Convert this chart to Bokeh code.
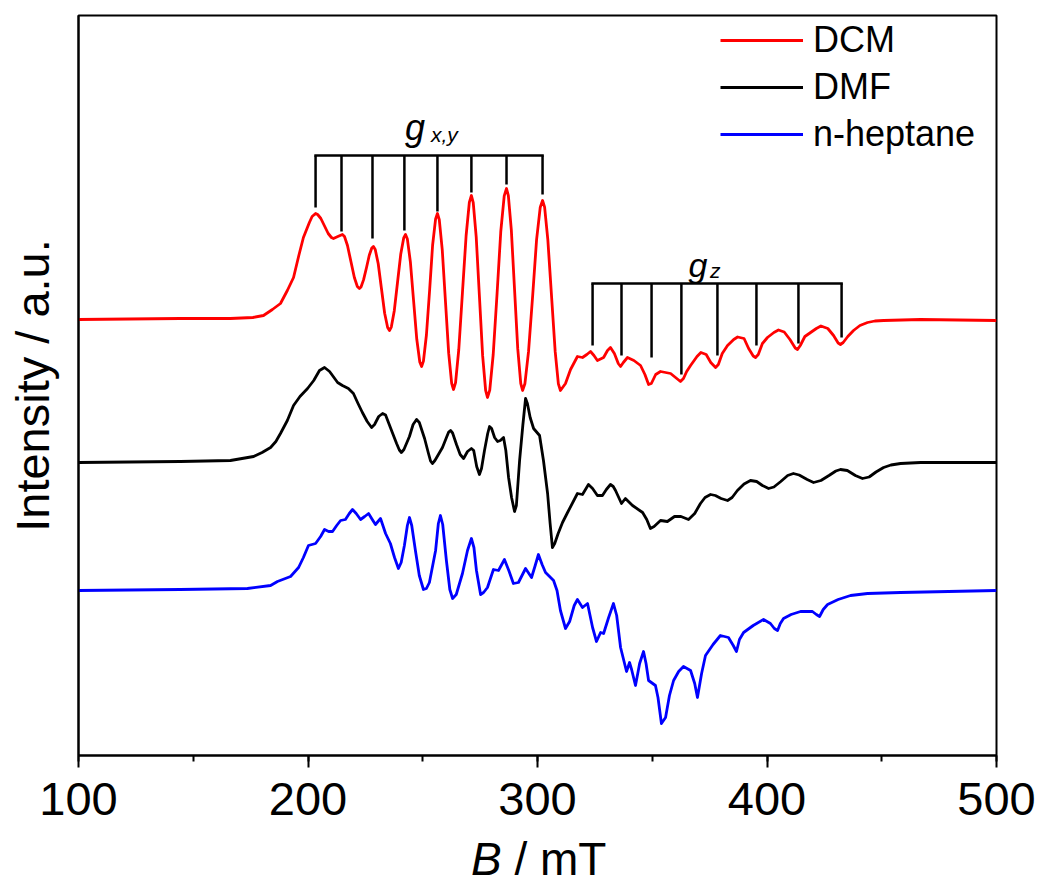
from bokeh.plotting import figure
from bokeh.models import (Range1d, SingleIntervalTicker, FixedTicker, Legend, LegendItem, Label, Div)
from bokeh.layouts import column
from bokeh.embed import file_html
from bokeh.resources import INLINE

# ---------------- data: (B / mT, intensity / a.u.) ----------------
dcm = [(100, 436), (144.4, 437), (166.2, 437), (176, 438), (180.6, 440), (184.5, 446), (188.0, 452), (191.0, 465),
       (193.7, 478), (196.0, 500), (198.0, 518), (200.6, 533), (201.8, 539), (203.3, 542),
       (204.2, 541), (205.6, 537), (207.2, 529.5), (208.8, 522), (210.2, 518), (211.1, 517), (213.0, 519), (215.0, 521),
       (215.9, 519), (217.2, 510), (218.7, 494), (220.2, 478), (221.5, 469), (222.4, 467),
       (223.1, 468.5), (224.2, 475.6), (225.5, 488), (226.7, 500.3), (227.8, 507.5), (228.5, 509),
       (229.3, 506), (230.6, 491.7), (232.0, 467), (233.4, 442.3), (234.7, 428), (235.5, 425),
       (236.3, 428.4), (237.6, 444.8), (239.0, 473), (240.4, 501.2), (241.7, 517.6), (242.5, 521),
       (243.3, 516.4), (244.6, 493.8), (246.0, 455), (247.4, 416.2), (248.7, 393.6), (249.5, 389),
       (250.3, 394.4), (251.6, 420.5), (253.0, 465.5), (254.3, 510.5), (255.6, 536.6), (256.4, 542),
       (257.2, 535.8), (258.5, 505.7), (259.9, 454), (261.3, 402.3), (262.6, 372.2), (263.4, 366),
       (264.3, 372.8), (265.7, 406), (267.3, 463), (268.9, 520), (270.3, 553.2), (271.2, 560),
       (272.0, 552.9), (273.3, 518.4), (274.7, 459), (276.1, 399.6), (277.4, 365.1), (278.2, 358),
       (279.2, 365.3), (280.7, 401), (282.4, 462.5), (284.0, 524), (285.5, 559.7), (286.5, 567),
       (287.3, 559.9), (288.6, 525.4), (290.0, 466), (291.4, 406.6), (292.7, 372.1), (293.5, 365),
       (294.5, 371.7), (296.1, 404.1), (297.9, 460), (299.6, 515.9), (301.2, 548.3), (302.2, 555),
       (303.1, 548.3), (304.5, 515.9), (306.1, 460), (307.7, 404.1), (309.1, 371.7), (310.0, 365),
       (312.2, 372), (314.4, 386), (317.4, 399), (319.6, 398), (321.5, 401), (323.1, 404), (324.6, 400),
       (326.1, 395), (328.8, 398), (330.5, 405), (331.8, 408), (333.5, 402), (335.2, 392), (336.2, 389),
       (337.4, 393), (339.2, 398), (342.0, 395), (344.9, 390), (346.8, 381), (348.4, 371), (349.6, 372),
       (351.5, 381), (353.6, 384), (358.0, 382), (362.3, 374), (363.6, 377), (365.0, 384), (366.7, 390),
       (369.5, 399), (371.2, 403), (373.5, 401), (375.5, 393), (377.6, 388), (378.8, 391), (380.5, 402),
       (382.8, 410), (385.5, 416), (387.2, 418.5), (390.0, 417), (392.0, 407), (394.0, 399.5), (395.0, 398),
       (396.2, 401), (398.0, 412), (400.2, 418), (403.0, 423), (405.0, 425.5), (407.5, 423.5), (410.0, 416),
       (412.3, 407.5), (413.3, 406), (414.5, 410), (416.5, 419), (419.0, 423), (421.5, 427), (423.5, 429.5),
       (426.5, 427), (429.0, 420), (431.0, 412.5), (432.0, 411), (433.2, 413), (435.2, 419), (437.7, 425),
       (440.5, 430), (443.8, 433), (447.0, 434.5), (450.8, 435), (466.9, 436), (500, 435)]

dmf = [(100, 293), (144.4, 294), (166.2, 295), (176.3, 299), (180, 303), (183.7, 308), (186, 314), (188.0, 322),
       (191, 335), (193.7, 350), (196.5, 359), (199.8, 367), (202.5, 375), (205.0, 385), (207.2, 388), (209.4, 384),
       (212.9, 373), (215, 370), (217.6, 367), (219.8, 362), (221.8, 352), (223.7, 343), (225.8, 334), (227.7, 328),
       (229, 331), (230.8, 339), (232.5, 342), (233.8, 340.5), (236.4, 325), (238.6, 312), (239.8, 305.5),
       (240.7, 303), (241.8, 306), (244.2, 319), (245.8, 331), (247.3, 336), (248.5, 333), (250.8, 317),
       (252.5, 302), (253.4, 294.5), (254.2, 292), (255.3, 295), (258.6, 308), (260.5, 319), (261.3, 323.5),
       (262.1, 325), (263, 322.5), (264.7, 311), (266.3, 301), (267.8, 297), (269.5, 304), (271.2, 307),
       (272.2, 305), (273.5, 289), (274.7, 281), (275.6, 287), (276.9, 305), (278.3, 322), (279.1, 329),
       (280, 327), (281.3, 318), (282.6, 314), (283.8, 315), (285.2, 318), (286.2, 305), (287.4, 278),
       (288.7, 258), (290.0, 244), (290.8, 250), (292.2, 295), (293.6, 330), (294.8, 357), (295.6, 352),
       (296.8, 338), (298.3, 327), (300.9, 320), (302.6, 295), (304.4, 262), (305.5, 232), (306.5, 208),
       (307.5, 212), (309, 222), (310.9, 233), (313.1, 243), (317.4, 262), (319.6, 261), (322.2, 271),
       (324, 267), (326.1, 260), (328.3, 260), (330, 266), (331.8, 271), (333, 269), (334.0, 265),
       (336.6, 252), (338.3, 257), (341.4, 250), (345.8, 243), (347.6, 236), (349.2, 227), (350.8, 229),
       (353.6, 235), (356.6, 234), (359.7, 239), (362.5, 239), (365.8, 236), (368.5, 242), (371.0, 252),
       (373, 258), (375.4, 261), (377.5, 260), (380, 257), (382.8, 255), (384.8, 258), (387.1, 265),
       (390, 271.5), (392.8, 275), (395.5, 274), (398, 270), (400.7, 267), (403, 268.5), (406, 274),
       (409, 280), (411.5, 282), (414, 280.5), (417.5, 276), (420.3, 273), (423.5, 275), (427, 280),
       (430, 284.5), (432.0, 286), (435, 285), (438.5, 280), (441.6, 277), (444.5, 278.5), (447.5, 283.5),
       (450.8, 288), (454, 290.5), (458.2, 292), (466.9, 293), (500, 293)]

heptane = [(100, 165), (144.4, 166), (173.6, 167), (183.7, 170), (186.7, 174), (192.4, 179), (195.9, 188),
           (198, 198), (200.2, 210), (203.3, 212), (205.5, 219), (207.2, 226), (209, 224), (210.7, 224),
           (212.5, 230), (214.2, 235), (216.3, 236), (218, 242), (219.4, 246), (221, 242), (222.9, 236),
           (224.7, 239), (226.4, 242), (228, 236), (229.4, 231), (230.5, 234), (231.6, 237), (233.8, 222),
           (235.9, 212), (237.7, 198), (239.4, 187), (240.6, 193), (242.0, 210), (243.3, 230), (244.2, 238),
           (245.2, 230), (246.8, 205), (248.5, 180), (250.3, 166), (251.6, 167), (252.9, 173), (255.6, 205),
           (256.8, 232), (257.7, 240), (258.7, 231), (260.3, 195), (261.8, 166), (263.0, 157), (264.6, 161),
           (267.3, 182), (269.5, 205), (271.2, 217), (272.3, 208), (273.4, 185), (275.2, 161), (276.5, 163),
           (278.2, 168), (280.8, 186), (283.0, 185), (285.6, 196), (287.5, 185), (289.5, 172), (291.7, 173),
           (294.8, 187), (297.4, 178), (299, 190), (300.4, 201), (302, 191), (303.5, 183), (307.0, 175),
           (308.5, 165), (310.0, 145), (312.2, 127), (314, 134), (316, 150), (317.4, 156), (319.6, 148),
           (321.8, 152), (324.0, 128), (325.7, 114), (327.5, 123), (328.8, 122), (331, 138), (333.1, 152),
           (334.5, 140), (336.2, 108), (338.8, 84), (340.1, 93), (341, 86), (342.7, 70), (344.5, 92),
           (346.2, 104), (347.3, 92), (348.4, 75), (351.4, 70), (352.5, 58), (354.0, 32), (355.8, 38),
           (357.5, 60), (359.3, 75), (361.5, 84), (363.6, 89), (366.7, 85), (368.5, 72), (369.7, 58),
           (371.5, 82), (373.2, 100), (376.5, 111), (379.7, 120), (383.2, 118), (385.3, 110), (386.7, 104),
           (388, 116), (389.8, 123), (394, 130), (398.5, 136), (401.5, 132), (403.2, 127), (404.6, 125),
           (405.8, 132), (407.2, 137), (410.5, 141), (414.6, 144), (419.8, 144), (421.5, 141), (422.9, 139),
           (424.5, 146), (426.4, 151), (431, 156), (436.4, 160), (443.8, 162), (458.2, 163), (500, 165)]

# stick diagrams (line positions in mT, lower ends in a.u.)
gxy_B = [203.3, 214.6, 228.1, 242.0, 256.4, 271.2, 286.5, 302.2]
gxy_end = [548, 524, 517, 525, 544, 563, 571, 561]
gxy_bar = 600
gz_B = [324.0, 336.6, 349.7, 362.7, 378.4, 395.4, 413.7, 432.5]
gz_end = [410, 400, 398, 381, 400, 410, 412, 418]
gz_bar = 472

series_names = ["DCM", "DMF", "n-heptane"]
series_colors = ["#ff0000", "#000000", "#0000ff"]
x_ticks_interval = 100

FONT = "Liberation Sans"

p = figure(width=1036, height=830, output_backend="svg", toolbar_location=None,
           x_range=Range1d(100, 500), y_range=Range1d(0, 740),
           min_border_left=78, min_border_right=40, min_border_top=15, min_border_bottom=75)
p.xgrid.visible = False
p.ygrid.visible = False
p.outline_line_color = "black"
p.outline_line_width = 2
p.outline_line_alpha = 1
p.background_fill_color = "white"
p.border_fill_color = "white"

# x axis
xa = p.xaxis[0]
xa.ticker = SingleIntervalTicker(interval=x_ticks_interval, num_minor_ticks=2)
xa.axis_line_width = 2
xa.major_tick_line_width = 2
xa.minor_tick_line_width = 2
xa.major_tick_out = 12
xa.major_tick_in = 0
xa.minor_tick_out = 6
xa.minor_tick_in = 0
xa.major_label_text_font = FONT
xa.major_label_text_font_size = "47px"
xa.major_label_text_color = "black"
xa.major_label_standoff = 15
xa.axis_label = None

# y axis
ya = p.yaxis[0]
ya.ticker = FixedTicker(ticks=[])
ya.axis_line_width = 2
ya.major_tick_out = 0
ya.major_tick_in = 0
ya.minor_tick_out = 0
ya.minor_tick_in = 0
ya.axis_label = "Intensity / a.u."
ya.axis_label_text_font = FONT
ya.axis_label_text_font_size = "47px"
ya.axis_label_text_font_style = "normal"
ya.axis_label_text_color = "black"
ya.axis_label_standoff = 20

renderers = []
for pts, c in [(dcm, series_colors[0]), (dmf, series_colors[1]), (heptane, series_colors[2])]:
    xs = [a for a, b in pts]
    ys = [b for a, b in pts]
    r = p.line(xs, ys, line_color=c, line_width=2.8, line_join="round")
    renderers.append(r)

# stick diagrams
p.segment(x0=gxy_B, y0=gxy_end, x1=gxy_B, y1=[gxy_bar] * len(gxy_B), line_color="black", line_width=2.5)
p.segment(x0=[gxy_B[0]], y0=[gxy_bar], x1=[gxy_B[-1]], y1=[gxy_bar], line_color="black", line_width=2.5, line_cap="square")
p.segment(x0=gz_B, y0=gz_end, x1=gz_B, y1=[gz_bar] * len(gz_B), line_color="black", line_width=2.5)
p.segment(x0=[gz_B[0]], y0=[gz_bar], x1=[gz_B[-1]], y1=[gz_bar], line_color="black", line_width=2.5, line_cap="square")

def lab(x, y, text, size, style="italic", align="left"):
    p.add_layout(Label(x=x, y=y, text=text, text_font=FONT, text_font_size=size,
                       text_font_style=style, text_align=align, text_baseline="alphabetic",
                       text_color="black"))

lab(246.6, 628, "g", "36px", align="center")
lab(253.6, 621, "x,y", "21px")
lab(369.9, 491, "g", "34px", align="center")
lab(375.2, 485, "z", "21px")

legend = Legend(items=[LegendItem(label=n, renderers=[r]) for n, r in zip(series_names, renderers)],
                location=(642, 600), glyph_width=83, glyph_height=40, label_height=40,
                label_standoff=10, spacing=5, padding=0, margin=0,
                border_line_color=None, background_fill_alpha=0,
                label_text_font=FONT, label_text_font_size="36px", label_text_color="black")
p.add_layout(legend)

# x-axis title (italic B) as real text below the plot
xtitle = Div(text="<i>B</i> / mT", width=1036, height=54,
             styles={"font-family": "Liberation Sans", "font-size": "46px", "line-height": "46px",
                     "color": "black", "padding-left": "471px", "padding-top": "6px", "margin": "0",
                     "white-space": "nowrap"})

layout = column(p, xtitle, spacing=0)
open("out.html", "w").write(file_html(layout, INLINE))
